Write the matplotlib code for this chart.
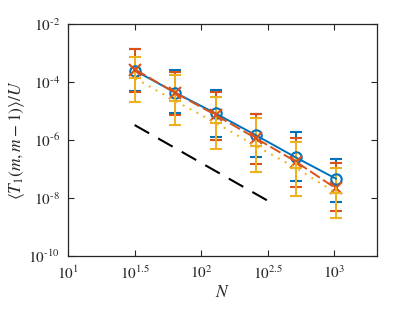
import numpy as np
import matplotlib
matplotlib.use("Agg")
import matplotlib.pyplot as plt

plt.rcParams['font.family'] = 'STIXGeneral'
plt.rcParams['mathtext.fontset'] = 'stix'

# data
N = [32, 64, 128, 256, 512, 1024]

blue_mid = [2.45e-4, 4.28e-5, 8.3e-6, 1.49e-6, 2.53e-7, 4.7e-8]
blue_hi = [1.37e-3, 2.65e-4, 5.3e-5, 7.9e-6, 1.85e-6, 2.2e-7]
blue_lo = [5.1e-5, 8.3e-6, 1.24e-6, 2.53e-7, 3.85e-8, 7.4e-9]

orange_mid = [2.7e-4, 4.2e-5, 7.3e-6, 1.17e-6, 1.82e-7, 2.16e-8]
orange_hi = [1.34e-3, 2.26e-4, 4.6e-5, 7.7e-6, 1.15e-6, 1.57e-7]
orange_lo = [4.6e-5, 7.3e-6, 1.0e-6, 1.49e-7, 2.45e-8, 3.6e-9]

yellow_mid = [1.34e-4, 2.2e-5, 3.95e-6, 6.35e-7, 1.11e-7, 1.52e-8]
yellow_hi = [7.4e-4, 1.74e-4, 3.1e-5, 5.6e-6, 8.7e-7, 1.11e-7]
yellow_lo = [2.1e-5, 3.3e-6, 4.8e-7, 8.1e-8, 1.2e-8, 2.1e-9]

ref_N = [31.6, 316]
ref_y = [3.3e-6, 8.1e-9]

xtick_exp = ['1', '1.5', '2', '2.5', '3']
ytick_exp = ['-10', '-8', '-6', '-4', '-2']

series = [
    (blue_mid, blue_lo, blue_hi, '#0072BD', 'o', '-'),
    (orange_mid, orange_lo, orange_hi, '#D95319', 'x', (0, (6, 2))),
    (yellow_mid, yellow_lo, yellow_hi, '#EDB120', '+', (0, (1, 3))),
]

fig = plt.figure(figsize=(4.15, 3.12), dpi=100)
ax = fig.add_axes([0.164, 0.179, 0.744, 0.744])

for mid, lo, hi, c, m, ls in series:
    mid = np.array(mid)
    err = [mid - np.array(lo), np.array(hi) - mid]
    ax.errorbar(N, mid, yerr=err, color=c, marker=m, ls=ls, lw=1.4,
                ms=8 if m != 'o' else 7.5, mfc='none', mew=1.5,
                capsize=4, capthick=1.4, elinewidth=1.4)

ax.plot(ref_N, ref_y, color='k', ls=(0, (8, 5)), lw=1.5)

ax.set_xscale('log')
ax.set_yscale('log')
ax.set_xlim(10, 10 ** 3.318)
ax.set_ylim(1e-10, 1e-2)

ax.set_xticks([10 ** float(e) for e in xtick_exp])
ax.set_xticklabels([r'$10^{%s}$' % e for e in xtick_exp])
ax.set_yticks([10 ** float(e) for e in ytick_exp])
ax.set_yticklabels([r'$10^{%s}$' % e.replace('-', '\\text{-}') for e in ytick_exp])
ax.minorticks_off()
ax.tick_params(direction='in', top=True, right=True, length=4, width=0.8,
               labelsize=11, colors='#262626', pad=6)
for s in ax.spines.values():
    s.set_linewidth(0.9)
    s.set_color('#262626')

ax.set_xlabel(r'$N$', fontsize=12.5, labelpad=2, color='#262626')
ax.set_ylabel(r'$\langle T_1(m,m-1)\rangle/U$', fontsize=12.5, labelpad=1,
              color='#262626')

fig.savefig('out.png', dpi=100)
